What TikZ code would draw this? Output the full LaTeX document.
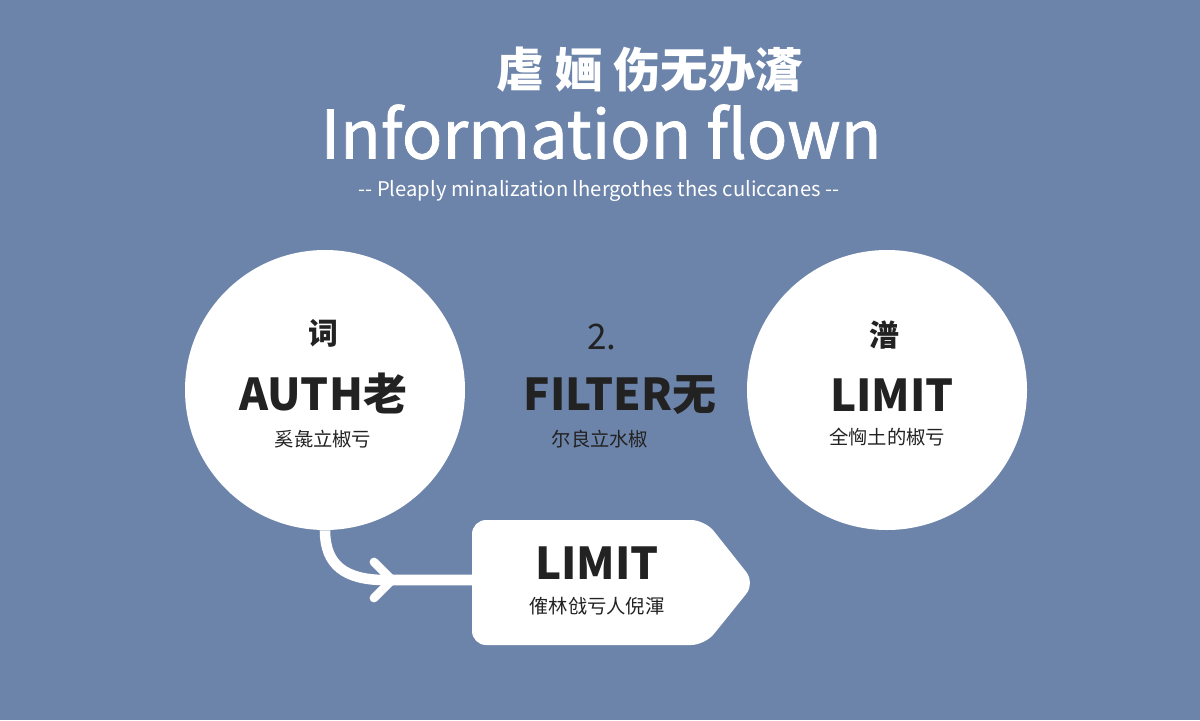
\documentclass[tikz,border=0pt]{standalone}
\usepackage{fontspec}
\setmainfont{Noto Sans CJK SC}
\newfontfamily\midf{Noto Sans CJK SC}[FakeBold=1.2]
\definecolor{bg}{HTML}{6D84AA}
\definecolor{ink}{HTML}{222222}
\tikzset{circ/.style={circle,fill=white,minimum size=280*0.02cm,inner sep=0pt},
 lab/.style={text=ink,inner sep=0pt},
 hdr/.style={text=white,inner sep=0pt}}
\begin{document}
\begin{tikzpicture}[x=0.02cm,y=-0.02cm]
\fill[bg] (0,0) rectangle (1200,720);
\useasboundingbox (0,0) rectangle (1200,720);
\node[hdr,font=\fontsize{27}{30}\selectfont\bfseries] (t1) at (650,70) {虐 婳 伤无办濸};
\node[hdr,font=\fontsize{38}{44}\selectfont\midf] (t2) at (601,132) {Information flown};
\node[hdr,font=\fontsize{11.5}{13}\selectfont] (t3) at (599,191) {-{}- Pleaply minalization lhergothes thes culiccanes -{}-};
\node[circ] (c1) at (325,390) {};
\node[circ] (c3) at (887,390) {};
\node[lab,font=\fontsize{17}{20}\selectfont\bfseries] (a1) at (323,333) {词};
\node[lab,font=\fontsize{25}{30}\selectfont\bfseries] (a2) at (323,393) {AUTH老};
\node[lab,font=\fontsize{11}{13}\selectfont] (a3) at (323,439) {奚彘立椒亏};
\node[lab,font=\fontsize{20}{24}\selectfont] (b1) at (602,337) {2.};
\node[lab,font=\fontsize{25}{30}\selectfont\bfseries] (b2) at (620,395) {FILTER无};
\node[lab,font=\fontsize{11}{13}\selectfont] (b3) at (600,439) {尔良立水椒};
\node[lab,font=\fontsize{17}{20}\selectfont\bfseries] (d1) at (884,335) {潽};
\node[lab,font=\fontsize{25}{30}\selectfont\bfseries] (d2) at (892,395) {LIMIT};
\node[lab,font=\fontsize{11}{13}\selectfont] (d3) at (887,437) {全恟土的椒亏};
\coordinate (p1) at (472,520);
\coordinate (p2) at (705,520);
\coordinate (p3) at (755,583);
\coordinate (p4) at (705,645);
\coordinate (p5) at (472,645);
\fill[white,rounded corners=8] (p3) -- (p2) -- (p1) -- (p5) -- (p4) -- cycle;
\node[lab,font=\fontsize{25}{30}\selectfont\bfseries] (e1) at (597,563) {LIMIT};
\node[lab,font=\fontsize{11}{13}\selectfont] (e2) at (597,606) {傕林戗亏人倪渾};
\coordinate (s) at (c1.south);
\coordinate (e) at (472,580);
\draw[white,line width=6pt] (s) .. controls (325,565) and (345,580) .. (385,580) -- (e);
\draw[white,line width=5pt,line cap=round,line join=round] (374,562) -- (392,580) -- (374,598);
\end{tikzpicture}
\end{document}
